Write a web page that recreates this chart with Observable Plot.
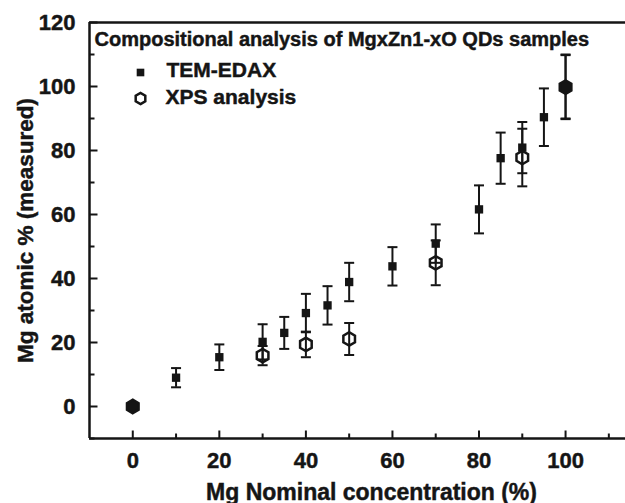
<!DOCTYPE html>
<html><head><meta charset="utf-8">
<script src="https://cdn.jsdelivr.net/npm/d3@7"></script>
<script src="https://cdn.jsdelivr.net/npm/@observablehq/plot@0.6"></script>
<style>body{margin:0;background:#fff} svg{display:block} svg text{stroke:#151515;stroke-width:0.45px}</style>
</head><body><div id="chart"></div>
<script>
// TEM-EDAX series
const nominalTEM = [0, 10, 20, 30, 35, 40, 45, 50, 60, 70, 80, 85, 90, 95, 100];
const measuredTEM = [0, 9, 15.4, 20.2, 23, 29.2, 31.6, 38.9, 43.8, 50.9, 61.6, 77.6, 80.9, 90.4, 100];
const errTEM = [0, 3, 4, 5.5, 5, 6, 6, 6, 6, 6, 7.5, 8, 8, 9, 10];
// XPS series
const nominalXPS = [0, 30, 40, 50, 70, 90, 100];
const measuredXPS = [0, 15.9, 19.4, 21.1, 44.9, 77.8, 99.8];
const errXPS = [0, 3, 4, 5, 7, 9, 10];
// axes
const xTicks = [0, 20, 40, 60, 80, 100];
const xMinor = [10, 30, 50, 70, 90, 110];
const yTicks = [0, 20, 40, 60, 80, 100, 120];
const yMinor = [-10, 10, 30, 50, 70, 90, 110];
const xLabel = "Mg Nominal concentration (%)";
const yLabel = "Mg atomic % (measured)";
const legendTitle = "Compositional analysis of MgxZn1-xO QDs samples";
const seriesNames = ["TEM-EDAX", "XPS analysis"];

const tem = nominalTEM.map((x, i) => ({x, y: measuredTEM[i], e: errTEM[i]}));
const xps = nominalXPS.map((x, i) => ({x, y: measuredXPS[i], e: errXPS[i],
  overlap: tem.some(t => t.x === x && Math.abs(t.y - measuredXPS[i]) < 1)}));
const withErr = [...tem, ...xps].filter(d => d.e > 0);

const ink = "#151515";
const cap = {draw(ctx, size) { const w = Math.sqrt(size / Math.PI); ctx.moveTo(-w, 0); ctx.lineTo(w, 0); }};
const tickUp = {draw(ctx, size) { const l = Math.sqrt(size / Math.PI); ctx.moveTo(0, 0); ctx.lineTo(0, -l); }};
const tickRight = {draw(ctx, size) { const l = Math.sqrt(size / Math.PI); ctx.moveTo(0, 0); ctx.lineTo(l, 0); }};
const font = "'Liberation Sans', Arial, sans-serif";

const chart = Plot.plot({
  width: 625,
  height: 503,
  marginLeft: 89,
  marginTop: 22,
  marginRight: 0,
  marginBottom: 65,
  style: {fontFamily: font, color: ink, background: "#fff"},
  x: {domain: [-10, 113.85]},
  y: {domain: [-10, 120]},
  marks: [
    // frame (left, bottom, top)
    Plot.ruleX([-10], {stroke: ink, strokeWidth: 2.5}),
    Plot.ruleY([-10], {stroke: ink, strokeWidth: 2.5}),
    Plot.ruleY([120], {stroke: ink, strokeWidth: 2.5}),
    // inward ticks
    Plot.dot(xTicks, {x: d => d, frameAnchor: "bottom", symbol: tickUp, r: 8, stroke: ink, strokeWidth: 2}),
    Plot.dot(xMinor, {x: d => d, frameAnchor: "bottom", symbol: tickUp, r: 5, stroke: ink, strokeWidth: 2}),
    Plot.dot(yTicks, {y: d => d, frameAnchor: "left", symbol: tickRight, r: 8, stroke: ink, strokeWidth: 2}),
    Plot.dot(yMinor, {y: d => d, frameAnchor: "left", symbol: tickRight, r: 5, stroke: ink, strokeWidth: 2}),
    Plot.axisX({ticks: xTicks, tickSize: 0, tickPadding: 14, fontSize: 22, fontWeight: "bold", label: null}),
    Plot.axisY({ticks: yTicks, tickSize: 0, tickPadding: 14, fontSize: 22, fontWeight: "bold", label: null}),
    Plot.text([xLabel], {frameAnchor: "bottom", dx: 14, dy: 61, lineAnchor: "bottom", fontSize: 23, fontWeight: "bold", fill: ink}),
    Plot.text([yLabel], {frameAnchor: "left", dx: -64, rotate: -90, textAnchor: "middle", lineAnchor: "middle", fontSize: 22.5, fontWeight: "bold", fill: ink}),
    // error bars
    Plot.ruleX(withErr, {x: "x", y1: d => d.y - d.e, y2: d => d.y + d.e, stroke: ink, strokeWidth: 2}),
    Plot.dot(withErr, {x: "x", y: d => d.y + d.e, symbol: cap, r: 5, stroke: ink, strokeWidth: 2}),
    Plot.dot(withErr, {x: "x", y: d => d.y - d.e, symbol: cap, r: 5, stroke: ink, strokeWidth: 2}),
    // markers
    Plot.dot(tem, {x: "x", y: "y", symbol: "square", r: 4.7, fill: ink, stroke: "none"}),
    Plot.dot(xps, {x: "x", y: "y", symbol: "hexagon", r: 5.8, fill: d => d.overlap ? ink : "none", stroke: ink, strokeWidth: 2.5}),
    // legend
    Plot.text([legendTitle], {frameAnchor: "top-left", dx: 5, dy: 17, textAnchor: "start", lineAnchor: "middle", fontSize: 20, fontWeight: "bold", fill: ink}),
    Plot.dot([seriesNames[0]], {frameAnchor: "top-left", dx: 51, dy: 50, symbol: "square", r: 4.3, fill: ink, stroke: "none"}),
    Plot.dot([seriesNames[1]], {frameAnchor: "top-left", dx: 51, dy: 76, symbol: "hexagon", r: 4.8, fill: "none", stroke: ink, strokeWidth: 2.5}),
    Plot.text([seriesNames[0]], {frameAnchor: "top-left", dx: 77, dy: 48, textAnchor: "start", lineAnchor: "middle", fontSize: 21, fontWeight: "bold", fill: ink}),
    Plot.text([seriesNames[1]], {frameAnchor: "top-left", dx: 76, dy: 75, textAnchor: "start", lineAnchor: "middle", fontSize: 21, fontWeight: "bold", fill: ink})
  ]
});
document.getElementById("chart").append(chart);
</script>
</body></html>
